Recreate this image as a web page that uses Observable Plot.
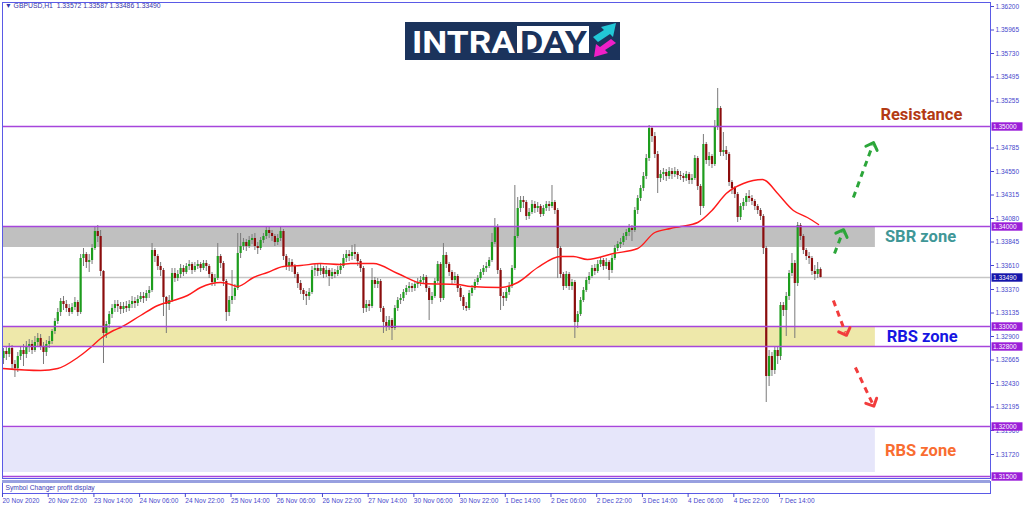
<!DOCTYPE html>
<html><head><meta charset="utf-8">
<script src="https://cdn.jsdelivr.net/npm/d3@7"></script>
<script src="https://cdn.jsdelivr.net/npm/@observablehq/plot@0.6"></script>
<style>
html,body{margin:0;padding:0;background:#fff;}
body{width:1024px;height:511px;overflow:hidden;position:relative;font-family:"Liberation Sans",Arial,sans-serif;}
#main{position:absolute;left:0;top:0;}
#sub{position:absolute;left:0;top:479px;}
#hdr{position:absolute;left:5px;top:2px;font-size:6.8px;color:#3333a8;white-space:pre;font-family:"Liberation Sans",Arial,sans-serif;}
#logo{position:absolute;left:405px;top:22px;}
svg marker path{stroke-dasharray:none !important;}
svg{overflow:visible;}
</style></head>
<body>
<div id="main"></div>
<div id="sub"></div>
<div id="hdr">▼ GBPUSD,H1  1.33572 1.33587 1.33486 1.33490</div>
<svg id="logo" width="215" height="38" viewBox="0 0 215 38">
  <rect x="0" y="0" width="215" height="38" fill="#1b335c"/>
  <text x="7" y="30.7" font-family="Roboto" font-weight="700" font-size="32" fill="#ffffff" textLength="103" lengthAdjust="spacingAndGlyphs">INTRA</text>
  <rect x="112" y="4" width="72" height="27" fill="#ffffff"/>
  <text x="115" y="30.7" font-family="Roboto" font-weight="700" font-size="32" fill="#1b335c" textLength="67" lengthAdjust="spacingAndGlyphs">DAY</text>
  <polygon points="188,15 199,8 196,5 211,1 208,15 205,12 193,20" fill="#22c7d6"/>
  <polygon points="211,21 200,28 203,31 189,35 191,22 195,25 206,17" fill="#ee1fc8"/>
</svg>
<script>
// ---- data (GBPUSD H1) ----
const firstOpen = 1.3268;
const closes = [
1.3275,1.3272,1.3278,1.3262,1.3258,1.3270,1.3276,1.3272,1.3279,1.3282,
1.3276,1.3284,1.3288,1.3280,1.3274,1.3282,1.3285,1.3295,1.3305,1.3314,
1.3325,1.3322,1.3318,1.3314,1.3319,1.3324,1.3314,1.3368,1.3372,1.3364,
1.3366,1.3378,1.3395,1.3390,1.3355,1.3293,1.3302,1.3312,1.3318,1.3322,
1.3320,1.3317,1.3320,1.3318,1.3322,1.3325,1.3323,1.3327,1.3330,1.3328,
1.3333,1.3336,1.3376,1.3370,1.3360,1.3356,1.3329,1.3322,1.3326,1.3353,
1.3348,1.3352,1.3358,1.3354,1.3360,1.3362,1.3356,1.3360,1.3362,1.3358,
1.3363,1.3360,1.3352,1.3344,1.3348,1.3370,1.3363,1.3345,1.3314,1.3326,
1.3330,1.3338,1.3373,1.3380,1.3384,1.3380,1.3386,1.3388,1.3380,1.3378,
1.3386,1.3390,1.3396,1.3393,1.3390,1.3384,1.3388,1.3395,1.3370,1.3360,
1.3364,1.3360,1.3352,1.3343,1.3336,1.3332,1.3330,1.3334,1.3356,1.3358,
1.3355,1.3358,1.3352,1.3356,1.3350,1.3354,1.3352,1.3356,1.3360,1.3368,
1.3372,1.3370,1.3374,1.3372,1.3365,1.3358,1.3318,1.3322,1.3320,1.3346,
1.3342,1.3345,1.3318,1.3304,1.3300,1.3306,1.3298,1.3318,1.3326,1.3328,
1.3334,1.3338,1.3340,1.3338,1.3342,1.3344,1.3346,1.3349,1.3338,1.3326,
1.3330,1.3345,1.3362,1.3328,1.3371,1.3362,1.3354,1.3346,1.3350,1.3338,
1.3329,1.3320,1.3318,1.3333,1.3338,1.3344,1.3348,1.3354,1.3358,1.3360,
1.3366,1.3384,1.3400,1.3356,1.3330,1.3328,1.3334,1.3340,1.3358,1.3390,
1.3418,1.3426,1.3424,1.3410,1.3414,1.3422,1.3418,1.3420,1.3412,1.3418,
1.3422,1.3420,1.3424,1.3416,1.3378,1.3352,1.3340,1.3352,1.3340,1.3344,
1.3304,1.3312,1.3326,1.3336,1.3346,1.3350,1.3358,1.3355,1.3362,1.3366,
1.3360,1.3364,1.3356,1.3368,1.3378,1.3382,1.3384,1.3390,1.3394,1.3398,
1.3396,1.3416,1.3428,1.3438,1.3450,1.3468,1.3498,1.3490,1.3472,1.3448,
1.3452,1.3454,1.3450,1.3455,1.3452,1.3455,1.3451,1.3450,1.3448,1.3452,
1.3446,1.3448,1.3468,1.3440,1.3420,1.3482,1.3466,1.3470,1.3462,1.3500,
1.3518,1.3474,1.3476,1.3472,1.3444,1.3438,1.3432,1.3409,1.3420,1.3424,
1.3430,1.3428,1.3425,1.3420,1.3416,1.3410,1.3378,1.3250,1.3270,1.3256,
1.3276,1.3270,1.3321,1.3316,1.3330,1.3353,1.3363,1.3343,1.3401,1.3390,
1.3376,1.3370,1.3368,1.3355,1.3352,1.3357,1.3349];
const highs = [
1.3278,1.3279,1.3283,1.3281,1.3266,1.3274,1.3280,1.3282,1.3285,1.3287,
1.3286,1.3290,1.3293,1.3292,1.3284,1.3286,1.3290,1.3297,1.3308,1.3318,
1.3328,1.3330,1.3326,1.3322,1.3323,1.3329,1.3326,1.3372,1.3378,1.3374,
1.3372,1.3382,1.3400,1.3401,1.3396,1.3356,1.3305,1.3315,1.3322,1.3326,
1.3326,1.3324,1.3324,1.3325,1.3326,1.3330,1.3329,1.3331,1.3334,1.3334,
1.3336,1.3340,1.3383,1.3378,1.3372,1.3364,1.3358,1.3330,1.3331,1.3358,
1.3358,1.3356,1.3362,1.3361,1.3363,1.3366,1.3364,1.3364,1.3366,1.3364,
1.3366,1.3366,1.3362,1.3354,1.3352,1.3383,1.3372,1.3365,1.3347,1.3330,
1.3356,1.3342,1.3393,1.3393,1.3388,1.3387,1.3390,1.3392,1.3393,1.3384,
1.3389,1.3393,1.3399,1.3400,1.3396,1.3392,1.3392,1.3399,1.3397,1.3372,
1.3368,1.3367,1.3362,1.3354,1.3346,1.3338,1.3335,1.3338,1.3360,1.3362,
1.3362,1.3362,1.3360,1.3360,1.3358,1.3358,1.3357,1.3360,1.3363,1.3372,
1.3376,1.3376,1.3381,1.3382,1.3374,1.3367,1.3360,1.3326,1.3326,1.3358,
1.3349,1.3348,1.3347,1.3320,1.3310,1.3310,1.3308,1.3321,1.3329,1.3332,
1.3337,1.3341,1.3344,1.3343,1.3345,1.3348,1.3350,1.3352,1.3351,1.3340,
1.3334,1.3348,1.3365,1.3364,1.3383,1.3374,1.3364,1.3356,1.3354,1.3352,
1.3340,1.3331,1.3324,1.3336,1.3341,1.3347,1.3351,1.3357,1.3361,1.3364,
1.3369,1.3393,1.3408,1.3402,1.3358,1.3334,1.3338,1.3344,1.3361,1.3441,
1.3429,1.3430,1.3430,1.3426,1.3418,1.3426,1.3425,1.3424,1.3422,1.3421,
1.3425,1.3425,1.3441,1.3426,1.3418,1.3380,1.3354,1.3355,1.3354,1.3347,
1.3346,1.3315,1.3329,1.3339,1.3349,1.3354,1.3361,1.3362,1.3366,1.3369,
1.3368,1.3368,1.3366,1.3371,1.3381,1.3385,1.3388,1.3393,1.3397,1.3402,
1.3401,1.3419,1.3431,1.3441,1.3454,1.3472,1.3501,1.3500,1.3494,1.3475,
1.3456,1.3458,1.3457,1.3459,1.3458,1.3459,1.3457,1.3455,1.3453,1.3455,
1.3454,1.3452,1.3471,1.3470,1.3442,1.3492,1.3484,1.3474,1.3472,1.3506,
1.3538,1.3520,1.3494,1.3480,1.3474,1.3446,1.3440,1.3434,1.3423,1.3428,
1.3433,1.3436,1.3431,1.3427,1.3422,1.3418,1.3412,1.3380,1.3276,1.3274,
1.3280,1.3280,1.3324,1.3324,1.3334,1.3356,1.3373,1.3366,1.3404,1.3403,
1.3392,1.3378,1.3374,1.3370,1.3361,1.3364,1.33587];
const lows = [
1.3262,1.3266,1.3269,1.3256,1.3249,1.3254,1.3266,1.3260,1.3268,1.3274,
1.3272,1.3274,1.3280,1.3276,1.3262,1.3270,1.3278,1.3282,1.3292,1.3302,
1.3310,1.3316,1.3314,1.3310,1.3312,1.3316,1.3310,1.3312,1.3360,1.3358,
1.3354,1.3362,1.3376,1.3384,1.3350,1.3263,1.3288,1.3298,1.3308,1.3314,
1.3314,1.3312,1.3313,1.3314,1.3315,1.3318,1.3318,1.3320,1.3324,1.3323,
1.3325,1.3328,1.3334,1.3364,1.3356,1.3350,1.3310,1.3293,1.3316,1.3324,
1.3344,1.3345,1.3348,1.3350,1.3352,1.3356,1.3352,1.3354,1.3357,1.3354,
1.3356,1.3355,1.3348,1.3340,1.3340,1.3346,1.3358,1.3340,1.3305,1.3310,
1.3322,1.3326,1.3336,1.3368,1.3376,1.3375,1.3378,1.3382,1.3376,1.3372,
1.3376,1.3383,1.3387,1.3388,1.3385,1.3380,1.3381,1.3385,1.3366,1.3356,
1.3355,1.3354,1.3348,1.3338,1.3332,1.3326,1.3321,1.3326,1.3332,1.3350,
1.3350,1.3351,1.3348,1.3349,1.3340,1.3347,1.3348,1.3350,1.3352,1.3358,
1.3364,1.3365,1.3366,1.3367,1.3360,1.3354,1.3313,1.3314,1.3315,1.3318,
1.3338,1.3338,1.3314,1.3293,1.3295,1.3296,1.3286,1.3296,1.3315,1.3322,
1.3325,1.3331,1.3334,1.3334,1.3335,1.3338,1.3340,1.3342,1.3334,1.3306,
1.3322,1.3328,1.3343,1.3324,1.3326,1.3358,1.3350,1.3341,1.3343,1.3334,
1.3325,1.3316,1.3315,1.3316,1.3330,1.3336,1.3341,1.3346,1.3351,1.3354,
1.3358,1.3364,1.3382,1.3352,1.3316,1.3320,1.3325,1.3331,1.3338,1.3356,
1.3388,1.3414,1.3418,1.3406,1.3407,1.3412,1.3413,1.3414,1.3409,1.3410,
1.3415,1.3415,1.3418,1.3412,1.3348,1.3348,1.3336,1.3338,1.3336,1.3336,
1.3288,1.3298,1.3310,1.3324,1.3334,1.3342,1.3348,1.3351,1.3353,1.3359,
1.3356,1.3357,1.3346,1.3353,1.3366,1.3375,1.3378,1.3381,1.3386,1.3390,
1.3385,1.3394,1.3412,1.3425,1.3435,1.3447,1.3465,1.3484,1.3468,1.3433,
1.3444,1.3446,1.3445,1.3447,1.3447,1.3449,1.3447,1.3446,1.3444,1.3445,
1.3442,1.3442,1.3446,1.3436,1.3411,1.3418,1.3462,1.3460,1.3458,1.3460,
1.3496,1.3470,1.3470,1.3466,1.3440,1.3432,1.3428,1.3404,1.3406,1.3416,
1.3420,1.3424,1.3421,1.3416,1.3412,1.3406,1.3372,1.3224,1.3240,1.3250,
1.3252,1.3262,1.3266,1.3310,1.3290,1.3326,1.3350,1.3288,1.3340,1.3386,
1.3372,1.3366,1.3362,1.3351,1.3346,1.3348,1.33486];

// moving average read at points (bar index, price)
const maIndex = [-0.3,13,19,26,30.5,34,38.5,41,48,54,59.5,64.4,69,76,79.5,82,87.5,92.4,98,104,111,118,121.5,129.5,138,147,159,163.5,174,180,187,195,199.5,204.4,213.5,222,228,233.5,237,243,248,253,259,265.7,266.7,271,276.5,281.4,285.3];
const maValue = [1.3258,1.3256,1.3258,1.3269,1.3279,1.3288,1.3296,1.3299,1.3311,1.3321,1.3326,1.3331,1.3339,1.3344,1.3342,1.3340,1.3349,1.3354,1.3360,1.3361,1.3363,1.3362,1.3363,1.3363,1.3353,1.3343,1.3342,1.3340,1.3339,1.3344,1.3359,1.3370,1.3370,1.3367,1.3373,1.3378,1.3394,1.3398,1.3400,1.3404,1.3416,1.3433,1.3443,1.3447,1.3446,1.3433,1.3416,1.3409,1.3402];

// time axis
const timeTickIdx = [0,16,32,48,64,80,96,112,128,144,160,176,192,208,224,240,256,272];
const timeLabels = ["20 Nov 2020","20 Nov 22:00","23 Nov 14:00","24 Nov 06:00","24 Nov 22:00","25 Nov 14:00","26 Nov 06:00","26 Nov 22:00","27 Nov 14:00","30 Nov 06:00","30 Nov 22:00","1 Dec 14:00","2 Dec 06:00","2 Dec 22:00","3 Dec 14:00","4 Dec 06:00","4 Dec 22:00","7 Dec 14:00"];

// price axis
const priceTicks = [1.36200,1.35965,1.35730,1.35495,1.35255,1.34785,1.34550,1.34315,1.34080,1.33845,1.33610,1.33370,1.33135,1.32900,1.32665,1.32430,1.32195,1.31960,1.31720];
const levelPrices = [1.35000,1.34000,1.33000,1.32800,1.32000,1.31500];
const currentPrice = 1.33490;

// zones
const zoneTops = [1.3400,1.3300,1.3198];
const zoneBottoms = [1.3379,1.3280,1.3154];
const zoneEnd = 305.2;
const zoneColors = ["#c0c0c0","#eee8aa","#e6e6fa"];

// annotations
const annTexts = ["Resistance","SBR zone","RBS zone","RBS zone"];
const annX = [321.3,321,321.6,321];
const annY = [1.3512,1.3390,1.3290,1.3176];
const annColors = ["#b33a14","#3f9797","#1616e2","#f96d31"];

// dashed arrows (bar index, price)
const arrowFromX = [297.5,290.9,290.5,298.2];
const arrowFromY = [1.3429,1.3373,1.3326,1.3259];
const arrowToX = [304.2,293.7,294.7,304.2];
const arrowToY = [1.3481,1.3394,1.3294,1.3223];
const arrowColors = ["#2ca63a","#2ca63a","#f23c3c","#f23c3c"];

// ---- build tables ----
const candles = closes.map((c,i)=>({i, o: i===0 ? firstOpen : closes[i-1], h: highs[i], l: lows[i], c}));
const ma = maIndex.map((x,k)=>({i:x, v:maValue[k]}));
const zones = zoneTops.map((t,k)=>({top:t, bottom:zoneBottoms[k], end:zoneEnd, fill:zoneColors[k]}));
const ann = annTexts.map((t,k)=>({text:t, x:annX[k], y:annY[k], color:annColors[k]}));
const arrows = arrowFromX.map((x,k)=>({x1:x, y1:arrowFromY[k], x2:arrowToX[k], y2:arrowToY[k], color:arrowColors[k]}));
const boxes = levelPrices.map(v=>({v, fill:"#9a1ed8"})).concat([{v:currentPrice, fill:"#1414aa"}]);
const labelMap = new Map(timeTickIdx.map((d,k)=>[d,timeLabels[k]]));

const xDomain = [-0.35, 345.5];
const boxSymbol = {draw(ctx){ ctx.moveTo(-15.5,-4.2); ctx.lineTo(15.5,-4.2); ctx.lineTo(15.5,4.2); ctx.lineTo(-15.5,4.2); ctx.closePath(); }};
const font = "Liberation Sans, Arial, sans-serif";

const main = Plot.plot({
  width:1024, height:479,
  marginTop:2, marginBottom:1, marginLeft:2, marginRight:34,
  x:{domain:xDomain, axis:null},
  y:{domain:[1.3148,1.3624], axis:null},
  style:{background:"transparent", fontFamily:font, color:"#4848cc"},
  marks:[
    Plot.rect(zones,{x1:xDomain[0], x2:"end", y1:"bottom", y2:"top", fill:"fill"}),
    Plot.ruleY([currentPrice],{stroke:"#c6c6c6", strokeWidth:1.6}),
    Plot.ruleX(candles,{x:"i", y1:"l", y2:"h", stroke:"#7a7a7a", strokeWidth:1}),
    Plot.ruleX(candles,{x:"i", y1:"o", y2:"c", stroke:d=>d.c>=d.o?"#1d9d1d":"#8b0d0d", strokeWidth:2.2}),
    Plot.line(ma,{x:"i", y:"v", stroke:"#ff1a1a", strokeWidth:1.4, curve:"monotone-x"}),
    Plot.ruleY(levelPrices,{stroke:"#a646dc", strokeWidth:1.6}),
    Plot.link(arrows,{x1:"x1", y1:"y1", x2:"x2", y2:"y2", stroke:"color", strokeWidth:3, strokeDasharray:"6,5", markerEnd:"arrow"}),
    Plot.text(ann,{x:"x", y:"y", text:"text", fill:"color", fontSize:16.5, fontWeight:700, fontFamily:"Roboto"}),
    Plot.frame({stroke:"#5a5ae6"}),
    Plot.axisY(priceTicks,{anchor:"right", tickSize:3, tickPadding:2, tickFormat:d=>d.toFixed(5), fontSize:6.5, label:null}),
    Plot.dot(boxes,{y:"v", frameAnchor:"right", dx:16.5, symbol:boxSymbol, r:5, fill:"fill", stroke:"none"}),
    Plot.text(boxes,{y:"v", frameAnchor:"right", dx:2.5, textAnchor:"start", text:d=>d.v.toFixed(5), fill:"white", fontSize:6.5})
  ]
});
document.getElementById("main").appendChild(main);

const sub = Plot.plot({
  width:1024, height:32,
  marginTop:2, marginBottom:18, marginLeft:2, marginRight:34,
  x:{domain:xDomain, axis:null},
  y:{domain:[0,1], axis:null},
  style:{background:"transparent", fontFamily:font, color:"#4848cc"},
  marks:[
    Plot.frame({stroke:"#5a5ae6"}),
    Plot.ruleY([1],{stroke:"#98a0e0", strokeWidth:3}),
    Plot.text(["Symbol Changer profit display"],{text:d=>d, frameAnchor:"left", dx:3, fontSize:6.7, fill:"#3b3bb5"}),
    Plot.axisX(timeTickIdx,{anchor:"bottom", tickSize:4, tickPadding:1, tickFormat:d=>labelMap.get(d), textAnchor:"start", dx:-1, fontSize:6.5, label:null})
  ]
});
document.getElementById("sub").appendChild(sub);
</script>
</body></html>
